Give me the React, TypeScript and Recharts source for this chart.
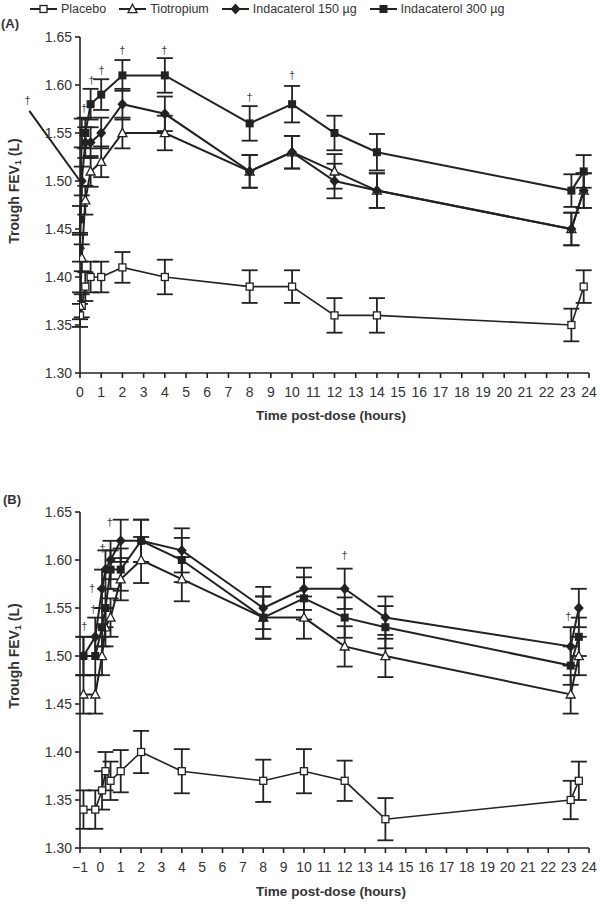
import React from 'react';
import {
  ComposedChart,
  Line,
  XAxis,
  YAxis,
  ErrorBar,
  Scatter,
  ReferenceLine,
  ReferenceDot,
} from 'recharts';

const FONT = '"Liberation Sans", Arial, sans-serif';
const INK = '#222';
const TEXT = '#333';

// legend names, in series order
const seriesNames = ['Placebo', 'Tiotropium', 'Indacaterol 150 µg', 'Indacaterol 300 µg'];

// ---- Panel (A) ----
const timeA = [0, 0.083, 0.25, 0.5, 1, 2, 4, 8, 10, 12, 14, 23.17, 23.75];
const placeboA = [1.36, 1.37, 1.39, 1.40, 1.40, 1.41, 1.40, 1.39, 1.39, 1.36, 1.36, 1.35, 1.39];
const tioA = [1.37, 1.42, 1.48, 1.51, 1.52, 1.55, 1.55, 1.51, 1.53, 1.51, 1.49, 1.45, 1.49];
const ind150A = [1.43, 1.50, 1.54, 1.54, 1.55, 1.58, 1.57, 1.51, 1.53, 1.50, 1.49, 1.45, 1.49];
const ind300A = [1.46, 1.55, 1.55, 1.58, 1.59, 1.61, 1.61, 1.56, 1.58, 1.55, 1.53, 1.49, 1.51];
const errPlaceboA = [0.012, 0.012, 0.015, 0.016, 0.016, 0.016, 0.018, 0.017, 0.017, 0.018, 0.018, 0.017, 0.017];
const errTioA = [0.014, 0.014, 0.015, 0.016, 0.016, 0.016, 0.018, 0.017, 0.017, 0.018, 0.018, 0.017, 0.018];
const errInd150A = [0.014, 0.015, 0.016, 0.016, 0.016, 0.016, 0.018, 0.017, 0.017, 0.018, 0.018, 0.017, 0.018];
const errInd300A = [0.014, 0.015, 0.016, 0.016, 0.016, 0.016, 0.018, 0.018, 0.019, 0.018, 0.019, 0.017, 0.017];
const daggerTimeA = [0.19, 0.55, 1.02, 2.0, 3.98, 7.99, 10.0];
const daggerValueA = [1.576, 1.605, 1.616, 1.636, 1.636, 1.588, 1.61];

// ---- Panel (B) ----
const timeB = [-0.83, -0.25, 0.083, 0.25, 0.5, 1, 2, 4, 8, 10, 12, 14, 23.1, 23.5];
const placeboB = [1.34, 1.34, 1.36, 1.38, 1.37, 1.38, 1.40, 1.38, 1.37, 1.38, 1.37, 1.33, 1.35, 1.37];
const tioB = [1.46, 1.46, 1.50, 1.53, 1.54, 1.58, 1.60, 1.58, 1.54, 1.54, 1.51, 1.50, 1.46, 1.50];
const ind150B = [1.50, 1.52, 1.57, 1.59, 1.60, 1.62, 1.62, 1.61, 1.55, 1.57, 1.57, 1.54, 1.51, 1.55];
const ind300B = [1.50, 1.50, 1.53, 1.55, 1.59, 1.59, 1.62, 1.60, 1.54, 1.56, 1.54, 1.53, 1.49, 1.52];
const errPlaceboB = [0.02, 0.02, 0.02, 0.02, 0.02, 0.022, 0.022, 0.023, 0.022, 0.023, 0.021, 0.022, 0.02, 0.02];
const errTioB = [0.02, 0.02, 0.02, 0.02, 0.02, 0.022, 0.024, 0.023, 0.022, 0.022, 0.021, 0.022, 0.02, 0.02];
const errInd150B = [0.02, 0.02, 0.02, 0.02, 0.02, 0.022, 0.022, 0.023, 0.022, 0.022, 0.021, 0.022, 0.02, 0.02];
const errInd300B = [0.02, 0.02, 0.02, 0.02, 0.02, 0.022, 0.022, 0.023, 0.022, 0.022, 0.021, 0.022, 0.02, 0.02];
const daggerTimeB = [-0.79, -0.35, -0.41, 0.11, 0.47, 12.0, 22.99];
const daggerValueB = [1.531, 1.549, 1.571, 1.613, 1.64, 1.605, 1.542];

const yTicks = [1.3, 1.35, 1.4, 1.45, 1.5, 1.55, 1.6, 1.65];
const xTicksA = Array.from({ length: 25 }, (_, i) => i);
const xTicksB = Array.from({ length: 26 }, (_, i) => i - 1);

const buildTable = (time: number[], series: number[][], errs: number[][]) =>
  time.map((t, i) => ({
    t,
    placebo: series[0][i],
    tio: series[1][i],
    ind150: series[2][i],
    ind300: series[3][i],
    ePlacebo: errs[0][i],
    eTio: errs[1][i],
    eInd150: errs[2][i],
    eInd300: errs[3][i],
  }));

const tableA = buildTable(
  timeA,
  [placeboA, tioA, ind150A, ind300A],
  [errPlaceboA, errTioA, errInd150A, errInd300A]
);
const tableB = buildTable(
  timeB,
  [placeboB, tioB, ind150B, ind300B],
  [errPlaceboB, errTioB, errInd150B, errInd300B]
);
const daggersA = daggerTimeA.map((t, i) => ({ t, y: daggerValueA[i] }));
const daggersB = daggerTimeB.map((t, i) => ({ t, y: daggerValueB[i] }));

// marker shapes: open square, open triangle, filled diamond, filled square
const markerShape = (kind: number, cx: number, cy: number, key?: any) => {
  if (kind === 0)
    return <rect key={key} x={cx - 3.5} y={cy - 3.5} width={7} height={7} fill="#fff" stroke={INK} strokeWidth={1.3} />;
  if (kind === 1)
    return (
      <polygon
        key={key}
        points={`${cx},${cy - 4.8} ${cx + 4.5},${cy + 3.6} ${cx - 4.5},${cy + 3.6}`}
        fill="#fff"
        stroke={INK}
        strokeWidth={1.3}
      />
    );
  if (kind === 2)
    return (
      <polygon
        key={key}
        points={`${cx},${cy - 5.5} ${cx + 5},${cy} ${cx},${cy + 5.5} ${cx - 5},${cy}`}
        fill={INK}
      />
    );
  return <rect key={key} x={cx - 4} y={cy - 4} width={8} height={8} fill={INK} />;
};

const makeDot = (kind: number) => (props: any) => {
  const { cx, cy, index } = props;
  if (cx == null || cy == null) return <g key={index} />;
  return markerShape(kind, cx, cy, index);
};

const Dagger = (props: any) => {
  const { cx, cy } = props;
  return (
    <text
      x={cx}
      y={cy}
      textAnchor="middle"
      dominantBaseline="central"
      fontSize={11}
      style={{ fill: '#444' }}
      fontFamily={FONT}
    >
      †
    </text>
  );
};

const seriesKeys = ['placebo', 'tio', 'ind150', 'ind300'];
const errKeys = ['ePlacebo', 'eTio', 'eInd150', 'eInd300'];

const Panel = ({
  data,
  daggers,
  xDomain,
  xTicks,
  arrow,
}: {
  data: any[];
  daggers: any[];
  xDomain: [number, number];
  xTicks: number[];
  arrow?: boolean;
}) => (
  <ComposedChart
    width={600}
    height={420}
    data={data}
    margin={{ top: 37, right: 11, left: 0, bottom: 0 }}
    style={{ fontFamily: FONT }}
  >
    <XAxis
      type="number"
      dataKey="t"
      domain={xDomain}
      ticks={xTicks}
      interval={0}
      allowDataOverflow
      height={47}
      tickSize={5}
      tickMargin={9}
      axisLine={{ stroke: INK, strokeWidth: 1.6 }}
      tickLine={{ stroke: INK, strokeWidth: 1.6 }}
      tick={{ fill: TEXT, fontSize: 14, fontFamily: FONT }}
      tickFormatter={(v: number) => (v < 0 ? `\u2212${Math.abs(v)}` : `${v}`)}
    />
    <YAxis
      type="number"
      domain={[1.3, 1.65]}
      ticks={yTicks}
      interval={0}
      allowDataOverflow
      width={80}
      tickSize={5}
      tickMargin={3}
      axisLine={{ stroke: INK, strokeWidth: 1.6 }}
      tickLine={{ stroke: INK, strokeWidth: 1.6 }}
      tick={{ fill: TEXT, fontSize: 14, fontFamily: FONT }}
      tickFormatter={(v: number) => v.toFixed(2)}
    />
    {seriesKeys.map((k, i) => (
      <Line
        key={k}
        dataKey={k}
        stroke={INK}
        strokeWidth={i === 0 ? 1.6 : 2}
        dot={makeDot(i)}
        activeDot={false}
        isAnimationActive={false}
      >
        <ErrorBar dataKey={errKeys[i]} width={8} stroke={INK} strokeWidth={1.8} direction="y" />
      </Line>
    ))}
    <Scatter data={daggers} dataKey="y" shape={<Dagger />} isAnimationActive={false} />
    {arrow && (
      <ReferenceLine
        segment={[
          { x: -2.39, y: 1.573 },
          { x: 0, y: 1.5 },
        ]}
        stroke={INK}
        strokeWidth={2}
        ifOverflow="visible"
      />
    )}
    {arrow && (
      <ReferenceDot x={-2.47} y={1.584} r={0} ifOverflow="visible" shape={(p: any) => <Dagger {...p} />} />
    )}
  </ComposedChart>
);

const LegendIcon = ({ kind }: { kind: number }) => (
  <svg width={27} height={12} style={{ display: 'block' }}>
    <line x1={0} y1={6} x2={27} y2={6} stroke={INK} strokeWidth={2} />
    {markerShape(kind, 13.5, 6)}
  </svg>
);

const yTitle = (cy: number) => (
  <div
    style={{
      position: 'absolute',
      left: 14,
      top: cy,
      transform: 'translate(-50%, -50%) rotate(-90deg)',
      whiteSpace: 'nowrap',
      fontSize: 14,
      fontWeight: 'bold',
      color: TEXT,
    }}
  >
    Trough FEV<sub style={{ fontSize: 9, verticalAlign: -2 }}>1</sub> (L)
  </div>
);

const xTitle = (cy: number) => (
  <div
    style={{
      position: 'absolute',
      left: 331,
      top: cy,
      transform: 'translate(-50%, -50%)',
      whiteSpace: 'nowrap',
      fontSize: 13.5,
      fontWeight: 'bold',
      color: TEXT,
    }}
  >
    Time post-dose (hours)
  </div>
);

export default function App() {
  return (
    <div
      style={{
        position: 'absolute',
        left: 0,
        top: 0,
        width: 600,
        height: 910,
        background: '#fff',
        fontFamily: FONT,
        overflow: 'hidden',
      }}
    >
      {/* legend */}
      <div
        style={{
          position: 'absolute',
          left: 30,
          top: 2,
          display: 'flex',
          alignItems: 'center',
          gap: 13,
          fontSize: 12.5,
          color: TEXT,
          whiteSpace: 'nowrap',
        }}
      >
        {seriesNames.map((name, i) => (
          <div key={name} style={{ display: 'flex', alignItems: 'center', gap: 4 }}>
            <LegendIcon kind={i} />
            <span>{name}</span>
          </div>
        ))}
      </div>

      <div style={{ position: 'absolute', left: 1, top: 23, transform: 'translateY(-50%)', fontSize: 13, fontWeight: 'bold', color: TEXT }}>
        (A)
      </div>
      <div style={{ position: 'absolute', left: 0, top: 0 }}>
        <Panel data={tableA} daggers={daggersA} xDomain={[0, 24]} xTicks={xTicksA} arrow />
      </div>
      {yTitle(191)}
      {xTitle(415)}

      <div style={{ position: 'absolute', left: 3, top: 499, transform: 'translateY(-50%)', fontSize: 13, fontWeight: 'bold', color: TEXT }}>
        (B)
      </div>
      <div style={{ position: 'absolute', left: 0, top: 475 }}>
        <Panel data={tableB} daggers={daggersB} xDomain={[-1, 24]} xTicks={xTicksB} />
      </div>
      {yTitle(656)}
      {xTitle(891)}
    </div>
  );
}
